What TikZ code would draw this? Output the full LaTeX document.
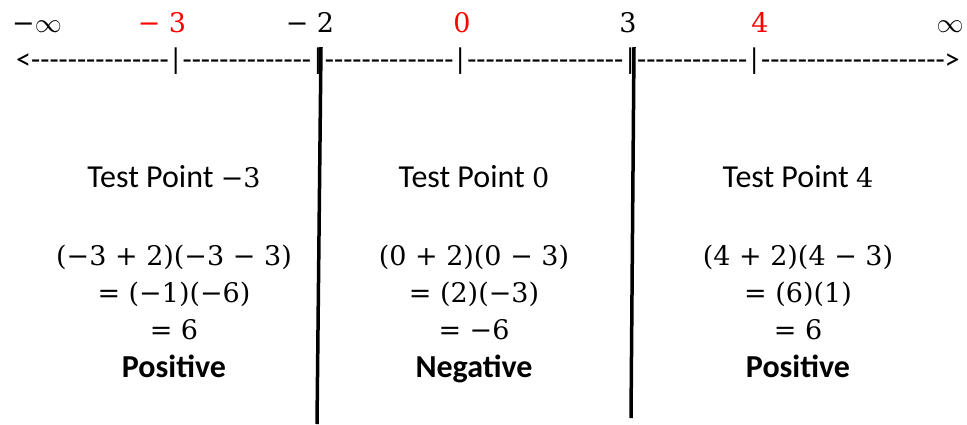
\RequirePackage{fix-cm}
\documentclass[tikz,border=0pt]{standalone}
\usepackage{fontspec}
\setmainfont{Carlito}
\newfontfamily\dashfont{Carlito}
\newfontfamily\numfont{DejaVu Serif}
\usepackage{tikz}
\usetikzlibrary{positioning}
\definecolor{tpred}{RGB}{255,0,0}
\definecolor{tpblack}{RGB}{0,0,0}

\begin{document}
\begin{tikzpicture}[x=1pt,y=-1pt,
    every node/.style={inner sep=0pt, anchor=base, font=\fontsize{32}{38}\selectfont},
    numlabel/.style={font=\fontsize{27}{32}\numfont},
    endlabel/.style={numlabel, text=tpblack},
    testlabel/.style={numlabel, text=tpred}]
    \useasboundingbox (0,0) rectangle (967,424);

    % labels above the line
    \node[endlabel]  (minf) at (37,32)  {−$\infty$};
    \node[testlabel] (lm3)  at (162,32) {− 3};
    \node[endlabel]  (lm2)  at (310,32) {− 2};
    \node[testlabel] (l0)   at (462,32) {0};
    \node[endlabel]  (l3)   at (628,32) {3};
    \node[testlabel] (l4)   at (760,32) {4};
    \node[endlabel]  (pinf) at (950,32) {$\infty$};

    % number line typed out
    \node[anchor=base west, font=\fontsize{30}{36}\dashfont] (line) at (16,69)
        {<---------------|--------------|--------------|-----------------|------------|-------------------->};

    % the two dividing lines
    \draw[line width=3.5pt] (321,47) -- (317,424);
    \draw[line width=3.5pt] (634,47) -- (631,418);

    % left region
    \node (tpa) at (174,187) {Test Point {\fontsize{27}{32}\numfont −3}};
    \node[numlabel] (eqa) at (174,265) {(−3 + 2)(−3 − 3)};
    \node[numlabel] (eqb) at (174,302) {= (−1)(−6)};
    \node[numlabel] (eqc) at (174,339) {= 6};
    \node (sga) at (174,377) {\textbf{Positive}};

    % middle region
    \node (tpb) at (474,187) {Test Point {\fontsize{27}{32}\numfont 0}};
    \node[numlabel] (eqd) at (474,265) {(0 + 2)(0 − 3)};
    \node[numlabel] (eqe) at (474,302) {= (2)(−3)};
    \node[numlabel] (eqf) at (474,339) {= −6};
    \node (sgb) at (474,377) {\textbf{Negative}};

    % right region
    \node (tpc) at (798,187) {Test Point {\fontsize{27}{32}\numfont 4}};
    \node[numlabel] (eqg) at (798,265) {(4 + 2)(4 − 3)};
    \node[numlabel] (eqh) at (798,302) {= (6)(1)};
    \node[numlabel] (eqi) at (798,339) {= 6};
    \node (sgc) at (798,377) {\textbf{Positive}};
\end{tikzpicture}
\end{document}
